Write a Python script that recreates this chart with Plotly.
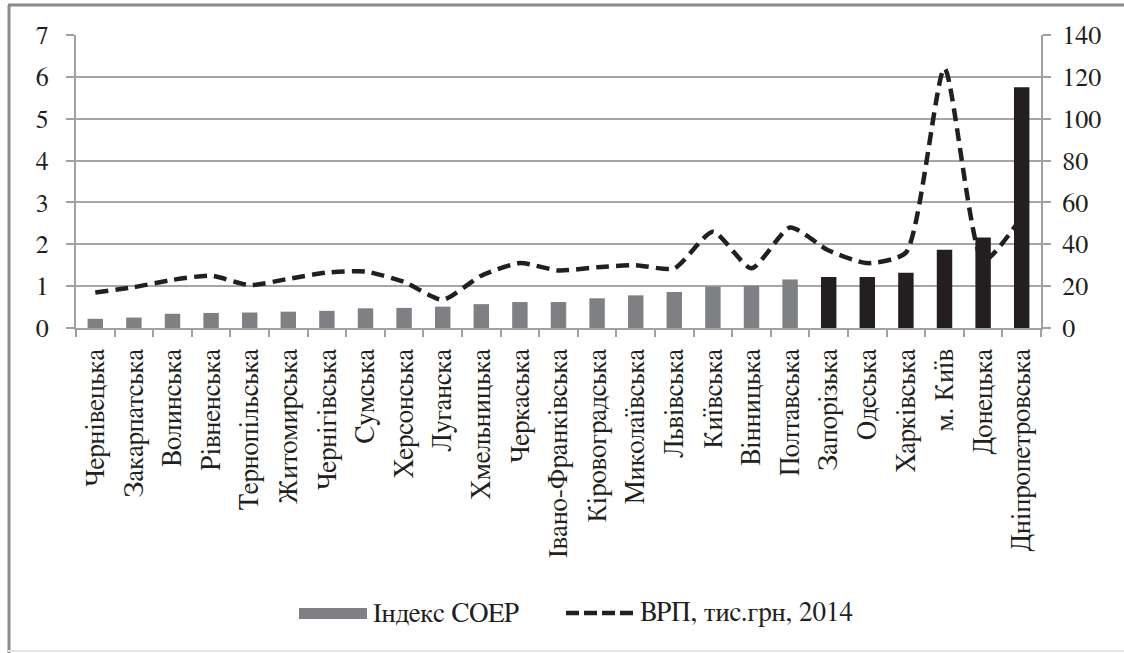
import plotly.graph_objects as go

regions = ["Чернівецька", "Закарпатська", "Волинська", "Рівненська", "Тернопільська",
           "Житомирська", "Чернігівська", "Сумська", "Херсонська", "Луганска",
           "Хмельницька", "Черкаська", "Івано-Франківська", "Кіровоградська", "Миколаївська",
           "Львівська", "Київська", "Вінницька", "Полтавська", "Запорізька",
           "Одеська", "Харківська", "м. Київ", "Донецька", "Дніпропетровська"]
coer_index = [0.22, 0.25, 0.34, 0.36, 0.37, 0.39, 0.41, 0.47, 0.48, 0.51,
              0.57, 0.62, 0.62, 0.71, 0.78, 0.86, 0.99, 1.01, 1.16, 1.22,
              1.22, 1.32, 1.87, 2.16, 5.75]
grp_2014 = [17, 19.5, 23, 25, 20.5, 23.5, 26.5, 27, 22, 13.5,
            25, 31, 27.5, 29, 30, 28.5, 46, 28.5, 48, 37,
            31, 36, 124, 32, 53]
left_ticks = [0, 1, 2, 3, 4, 5, 6, 7]
right_ticks = [0, 20, 40, 60, 80, 100, 120, 140]
legend_names = ["Індекс СОЕР", "ВРП, тис.грн, 2014"]

W, H = 1124, 653
L, R, T, B = 76, 1041, 35, 328
GRAY_N = 19
bar_colors = ["#7f8083"] * GRAY_N + ["#231f20"] * (len(regions) - GRAY_N)
FONT = "FreeSerif"
TXT = "#231f20"


def px(x):
    return (x - L) / (R - L)


def py(y):
    return (B - y) / (B - T)


fig = go.Figure()
fig.add_trace(go.Bar(x=regions, y=coer_index, marker=dict(color=bar_colors, line=dict(width=0)),
                     name=legend_names[0], yaxis="y"))
fig.add_trace(go.Scatter(x=regions, y=grp_2014, mode="lines", name=legend_names[1],
                         line=dict(color="#231f20", width=4.5, dash="13px,7px", shape="spline", smoothing=0.6),
                         yaxis="y2"))

fig.update_layout(
    width=W, height=H,
    margin=dict(l=L, r=W - R, t=T, b=H - B, autoexpand=False),
    paper_bgcolor="white", plot_bgcolor="white",
    showlegend=False,
    bargap=0.6,
    font=dict(family=FONT, color=TXT),
    xaxis=dict(type="category", tickangle=-90, tickfont=dict(size=27, family=FONT, color=TXT),
               showline=True, linecolor="#a0a0a0", linewidth=2, ticks="outside", tickson="boundaries",
               ticklen=7, tickcolor="#a0a0a0", tickwidth=2, showgrid=False, automargin=False,
               ticklabelstandoff=8),
    yaxis=dict(range=[0, 7], tickvals=left_ticks, tickfont=dict(size=26, family=FONT, color=TXT),
               showline=True, linecolor="#a0a0a0", linewidth=2, ticks="outside", ticklen=8,
               tickcolor="#a0a0a0", tickwidth=2, showgrid=True, gridcolor="#a6a6a6", gridwidth=2,
               zeroline=False, automargin=False, ticklabelstandoff=12),
    yaxis2=dict(range=[0, 140], tickvals=right_ticks, overlaying="y", side="right",
                tickfont=dict(size=26, family=FONT, color=TXT),
                showline=True, linecolor="#a0a0a0", linewidth=2, ticks="outside", ticklen=8,
                tickcolor="#a0a0a0", tickwidth=2, showgrid=False, zeroline=False, automargin=False,
                ticklabelstandoff=6),
)

shapes = [
    dict(type="line", xref="paper", yref="paper", x0=px(9), x1=px(9), y0=py(5), y1=py(H),
         line=dict(color="#8a8a8a", width=3)),
    dict(type="line", xref="paper", yref="paper", x0=px(8), x1=px(W), y0=py(5), y1=py(5),
         line=dict(color="#8a8a8a", width=3)),
    dict(type="line", xref="paper", yref="paper", x0=px(8), x1=px(W), y0=py(651), y1=py(651),
         line=dict(color="#e6e6e6", width=2)),
    dict(type="rect", xref="paper", yref="paper", x0=px(299), x1=px(367), y0=py(619), y1=py(608),
         fillcolor="#7f8083", line=dict(width=0)),
    dict(type="line", xref="paper", yref="paper", x0=px(566), x1=px(636), y0=py(613), y1=py(613),
         line=dict(color="#231f20", width=4.5, dash="13px,5px")),
]
annotations = [
    dict(text=legend_names[0], xref="paper", yref="paper", x=px(371), y=py(613), xanchor="left",
         yanchor="middle", showarrow=False, font=dict(size=27, family=FONT, color=TXT)),
    dict(text=legend_names[1], xref="paper", yref="paper", x=px(638), y=py(613), xanchor="left",
         yanchor="middle", showarrow=False, font=dict(size=27, family=FONT, color=TXT)),
]
fig.update_layout(shapes=shapes, annotations=annotations)

fig.write_html("out.html", config={"displayModeBar": False},
               post_script="document.body.style.margin='0';document.body.style.overflow='hidden';")
